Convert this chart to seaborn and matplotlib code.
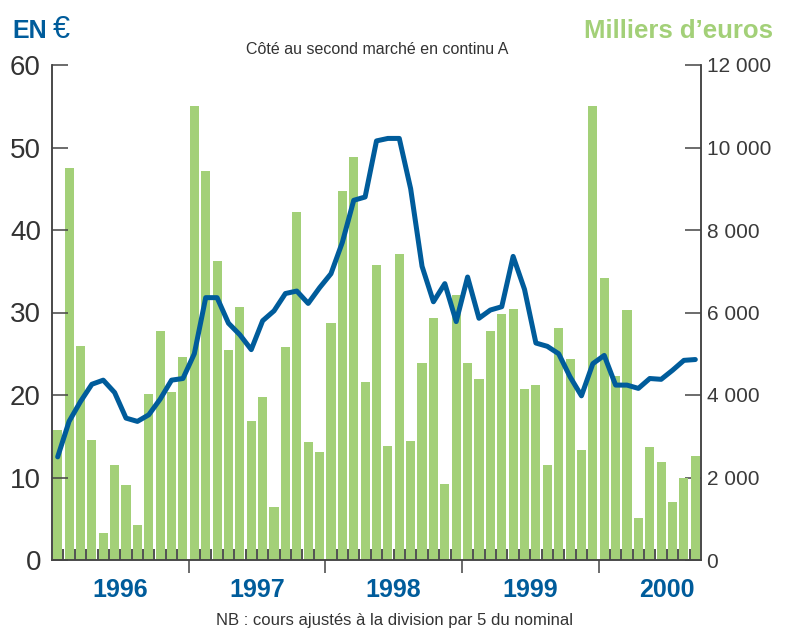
import numpy as np
import pandas as pd
import matplotlib
matplotlib.use('Agg')
import matplotlib.pyplot as plt
import seaborn as sns

# Données mensuelles (janvier 1996 - septembre 2000)
mois = pd.date_range('1996-01-01', periods=57, freq='MS').strftime('%Y-%m')

# Capitaux échangés, en milliers d'euros (barres, axe de droite)
volumes = [3150, 9500, 5190, 2910, 660, 2300, 1820, 850, 4025, 5550, 4070, 4930,
           11000, 9430, 7250, 5090, 6130, 3370, 3950, 1285, 5165, 8440, 2860, 2620,
           5745, 8945, 9770, 4315, 7150, 2765, 7420, 2885, 4775, 5865, 1840, 6425,
           4775, 4390, 5550, 5965, 6085, 4145, 4240, 2300, 5625, 4870, 2665, 11000,
           6835, 4460, 6060, 1020, 2740, 2375, 1405, 1990, 2520]

# Cours en euros (courbe, axe de gauche)
cours = [12.5, 16.8, 19.2, 21.3, 21.8, 20.3, 17.2, 16.8, 17.6, 19.5, 21.8, 22.0,
         25.0, 31.8, 31.8, 28.7, 27.3, 25.5, 29.0, 30.2, 32.3, 32.6, 31.1, 33.0,
         34.7, 38.5, 43.6, 44.0, 50.8, 51.1, 51.1, 45.0, 35.6, 31.3, 33.5, 28.9,
         34.3, 29.3, 30.3, 30.7, 36.8, 32.8, 26.3, 25.9, 25.0, 22.2, 19.9, 23.8,
         24.8, 21.2, 21.2, 20.8, 22.0, 21.9, 23.0, 24.2, 24.3]

annees = ['1996', '1997', '1998', '1999', '2000']

df = pd.DataFrame({'mois': mois, 'volume': volumes, 'cours': cours})
df['pos'] = np.arange(len(df))

bleu = '#005c9b'
vert = '#a3d078'
gris = '#444444'

sns.set_theme(style='ticks')
plt.rcParams['font.family'] = ['Liberation Sans', 'DejaVu Sans']

fig = plt.figure(figsize=(7.87, 6.3), dpi=100)
ax_v = fig.add_axes([52 / 787, 70 / 630, 649 / 787, 495 / 630])
ax_c = ax_v.twinx()

# barres : volumes (axe de droite)
sns.barplot(data=df, x='mois', y='volume', color=vert, saturation=1,
            width=0.8, linewidth=0, errorbar=None, ax=ax_v)

# courbe : cours (axe de gauche, tracée au-dessus)
sns.lineplot(data=df, x='pos', y='cours', color=bleu, linewidth=3.6, ax=ax_c)

ax_v.set_ylim(0, 12000)
ax_c.set_ylim(0, 60)
ax_v.set_xlim(-0.5, len(df) - 0.5)

# on inverse les côtés par défaut de twinx
ax_v.yaxis.tick_right()
ax_c.yaxis.tick_left()

ax_v.set_yticks(range(0, 12001, 2000))
ax_v.set_yticklabels([f'{v:,}'.replace(',', ' ') for v in range(0, 12001, 2000)])
ax_v.tick_params(axis='y', which='both', left=False, right=True, labelleft=False,
                 labelright=True, direction='in', length=11.5, width=1.1, color=gris,
                 labelsize=15, labelcolor='#3a3a3a', pad=4)

ax_c.set_yticks(range(0, 61, 10))
ax_c.tick_params(axis='y', which='both', left=True, right=False, labelleft=True,
                 labelright=False, direction='in', length=11.5, width=1.1, color=gris,
                 labelsize=20, labelcolor='#333333', pad=8)

# graduations de l'axe des x : mois (intérieur) et années (extérieur)
debuts = [i for i, m in enumerate(mois) if m.endswith('-01') and i > 0]
ax_v.set_xticks([d - 0.5 for d in debuts])
ax_v.set_xticklabels([])
ax_v.set_xticks(np.arange(len(df) - 1) + 0.5, minor=True)
ax_v.tick_params(axis='x', which='major', direction='out', length=9, width=1.1, color=gris)
ax_v.tick_params(axis='x', which='minor', direction='in', length=8, width=1.1, color='#222222')

for k, an in enumerate(annees):
    ax_v.text(k * 12 + 5.5, -0.036, an, transform=ax_v.get_xaxis_transform(),
              ha='center', va='top', fontsize=18, fontweight='bold', color=bleu)

for ax in (ax_v, ax_c):
    ax.set_xlabel('')
    ax.set_ylabel('')
    ax.spines['top'].set_visible(False)
    for s in ('left', 'right', 'bottom'):
        ax.spines[s].set_color(gris)
        ax.spines[s].set_linewidth(1.1)

# titres
fig.text(12 / 787, 1 - 38 / 630, 'EN', ha='left', va='baseline',
         fontsize=18, fontweight='bold', color=bleu)
fig.text(53 / 787, 1 - 38 / 630, '€', ha='left', va='baseline',
         fontsize=22, color=bleu)
fig.text(773 / 787, 1 - 38 / 630, 'Milliers d’euros', ha='right', va='baseline',
         fontsize=18.5, fontweight='bold', color=vert)
fig.text(377 / 787, 1 - 50 / 630, 'Côté au second marché en continu A',
         ha='center', va='center', fontsize=11.5, color='#333333')
fig.text(394 / 787, 1 - 620 / 630, 'NB : cours ajustés à la division par 5 du nominal',
         ha='center', va='center', fontsize=12, color='#333333')

fig.savefig('out.png', dpi=100)
